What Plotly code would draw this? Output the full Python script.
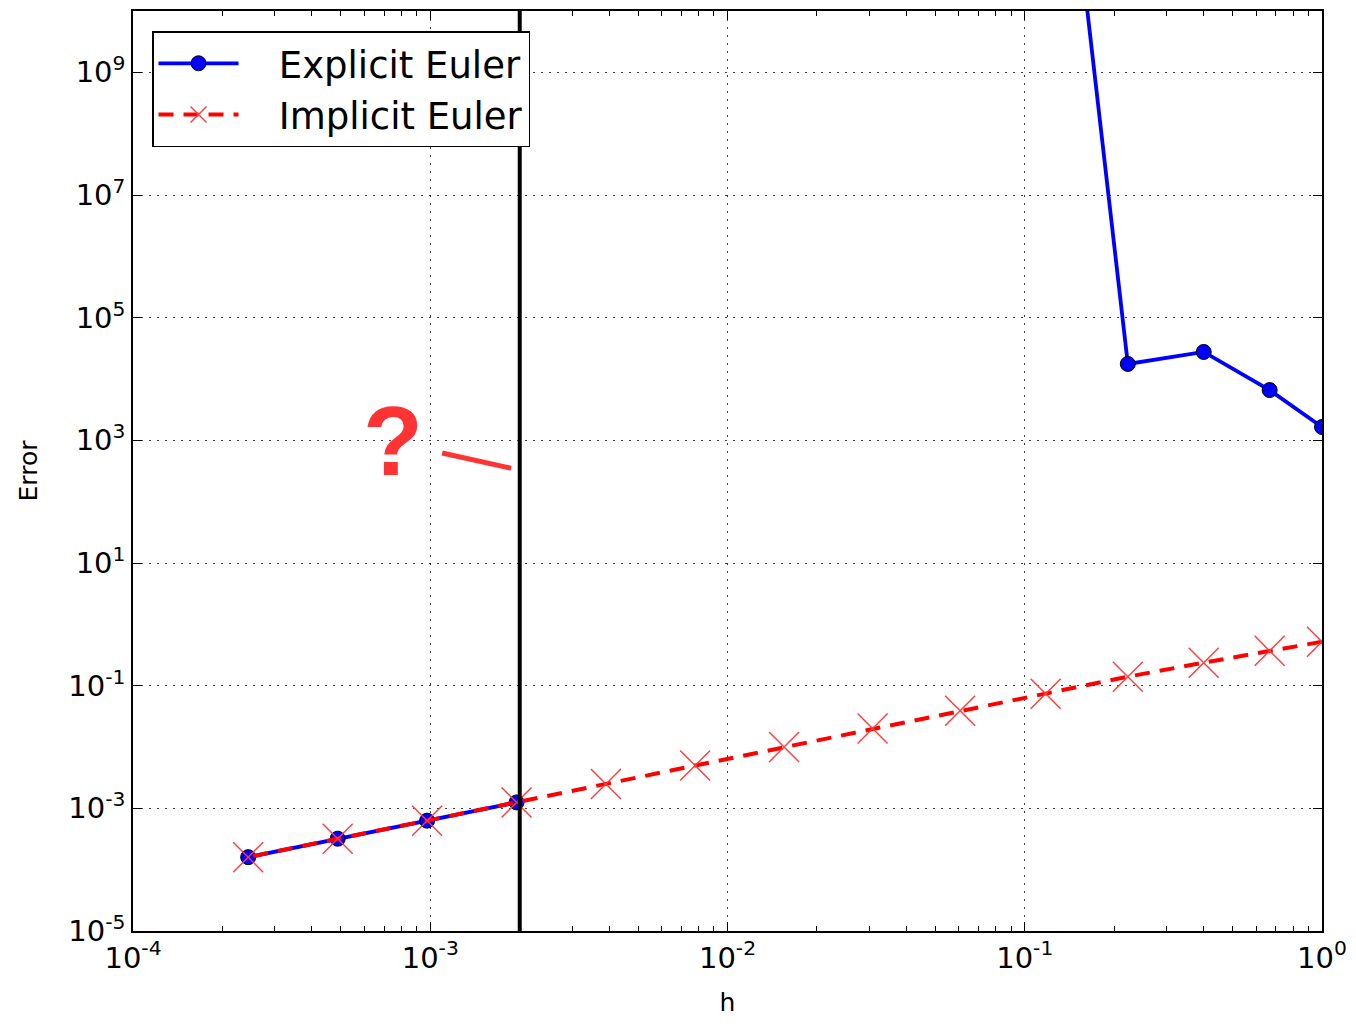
import plotly.graph_objects as go

# Step sizes h
h = [1.0, 0.6667, 0.4, 0.2222, 0.1176, 0.06061, 0.03077, 0.01550,
     0.007782, 0.003899, 0.001951, 0.0009761, 0.0004882, 0.0002441]

# Errors (None = overflow, not drawn)
explicit_err = [1650, 6600, 2.76e4, 1.76e4, 8.5e15, None, None, None,
                None, None, 1.25e-3, 6.3e-4, 3.2e-4, 1.6e-4]
implicit_err = [0.52, 0.37, 0.237, 0.14, 0.074, 0.039, 0.020, 0.010,
                0.0050, 0.0025, 0.00125, 0.00063, 0.00032, 0.00016]

# Stability threshold line
threshold_h = 0.002
y_span = [1e-5, 1e10]

x_tickvals = [1e-4, 1e-3, 1e-2, 1e-1, 1e0]
x_ticktext = ["10<sup>-4</sup>", "10<sup>-3</sup>", "10<sup>-2</sup>", "10<sup>-1</sup>", "10<sup>0</sup>"]
y_tickvals = [1e-5, 1e-3, 1e-1, 1e1, 1e3, 1e5, 1e7, 1e9]
y_ticktext = ["10<sup>-5</sup>", "10<sup>-3</sup>", "10<sup>-1</sup>", "10<sup>1</sup>",
              "10<sup>3</sup>", "10<sup>5</sup>", "10<sup>7</sup>", "10<sup>9</sup>"]
x_minor = [m * 10 ** e for e in range(-4, 0) for m in range(2, 10)]

FONT = "DejaVu Sans"
RED = "#ff0000"
PAD = "\u00a0\u00a0\u00a0"

fig = go.Figure()
fig.add_trace(go.Scatter(
    x=h, y=explicit_err, name=PAD + "Explicit Euler", mode="lines+markers",
    line=dict(color="#0000ff", width=3.8),
    marker=dict(symbol="circle", size=15, color="#0000ff",
                line=dict(color="black", width=1)),
    hoverinfo="skip",
))
fig.add_trace(go.Scatter(
    x=h, y=implicit_err, name=PAD + "Implicit Euler", mode="lines+markers",
    line=dict(color=RED, width=4, dash="15px,10px"),
    marker=dict(symbol="x-thin", size=30, color=RED,
                line=dict(color="#ff3b3b", width=1.4)),
    hoverinfo="skip",
))
fig.add_trace(go.Scatter(
    x=[threshold_h, threshold_h], y=y_span, mode="lines",
    line=dict(color="black", width=4), showlegend=False, hoverinfo="skip",
))

# "?" annotation with pointer line
fig.add_annotation(
    x=0.192, y=0.533, xref="paper", yref="paper", text="<b>?</b>",
    showarrow=False, font=dict(family="Liberation Sans", size=98, color="#ff3333"),
)
fig.add_shape(type="line", xref="paper", yref="paper",
              x0=0.260, y0=0.5195, x1=0.318, y1=0.503,
              line=dict(color="#ff3333", width=5))

axis_common = dict(
    type="log", showline=True, linecolor="black", linewidth=1.5, mirror="allticks",
    ticks="inside", ticklen=9, tickwidth=1.2, tickcolor="black",
    showgrid=True, gridcolor="rgba(0,0,0,0.75)", gridwidth=1, griddash="2px,6px",
    zeroline=False, tickfont=dict(family=FONT, size=29, color="black"),
    ticklabeloverflow="allow",
)

fig.update_xaxes(
    **axis_common, range=[-4, 0], tickmode="array", tickvals=x_tickvals, ticktext=x_ticktext,
    minor=dict(tickmode="array", tickvals=x_minor, ticks="inside", ticklen=5,
               tickcolor="black", tickwidth=1, showgrid=False),
    title=dict(text="h", font=dict(family=FONT, size=25, color="black"), standoff=20),
)
fig.update_yaxes(
    **axis_common, range=[-5, 10], tickmode="array", tickvals=y_tickvals, ticktext=y_ticktext,
    title=dict(text="Error", font=dict(family=FONT, size=25, color="black"), standoff=24),
)

fig.update_layout(
    width=1340, height=1010,
    margin=dict(l=125, r=23, t=1, b=87),
    paper_bgcolor="white", plot_bgcolor="white",
    font=dict(family=FONT, color="black"),
    hovermode=False,
    legend=dict(
        x=0.016, y=0.978, xanchor="left", yanchor="top",
        bgcolor="white", bordercolor="black", borderwidth=1.5,
        font=dict(family=FONT, size=37, color="black"),
        itemwidth=80, tracegroupgap=0,
    ),
)

fig.write_html("out.html")
